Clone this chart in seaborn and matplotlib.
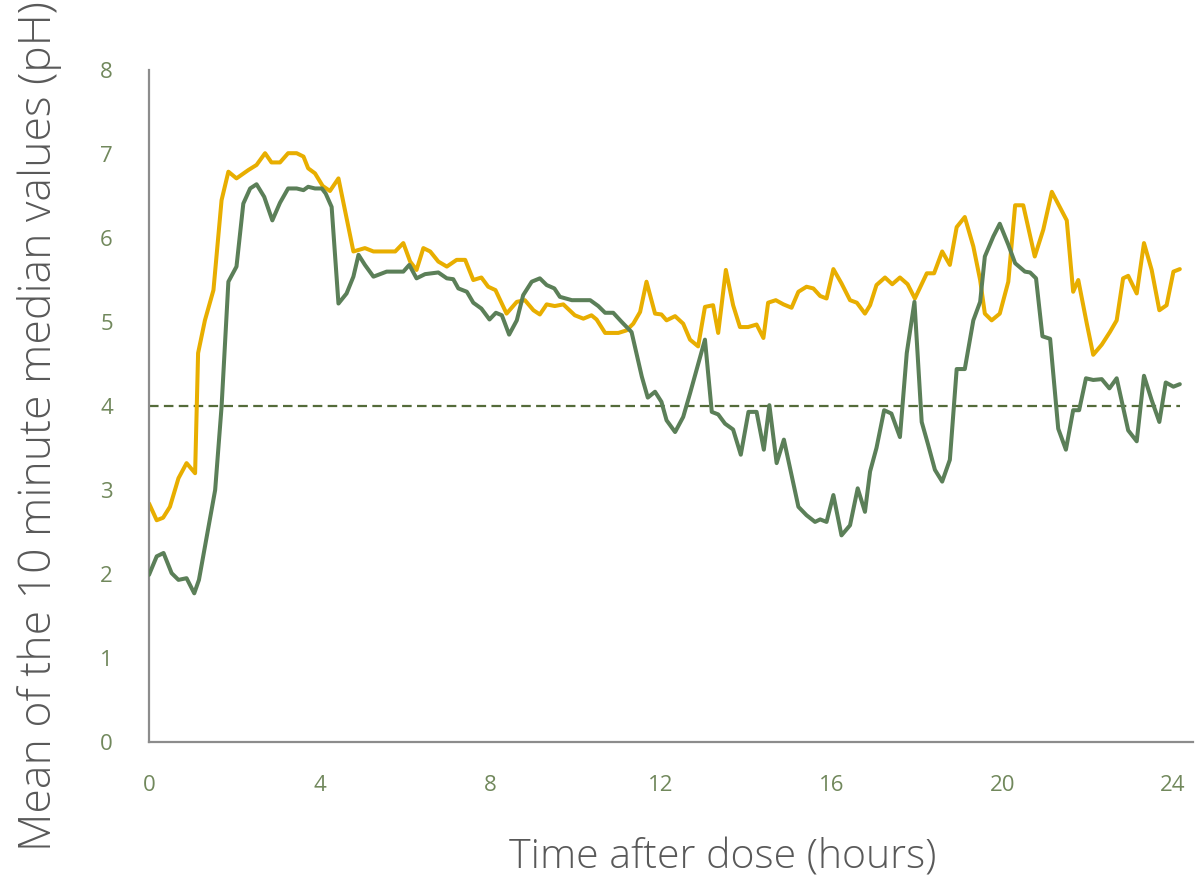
import matplotlib
matplotlib.use("Agg")
import matplotlib.pyplot as plt
import seaborn as sns
import pandas as pd

# hours after dose / pH
yellow_hours = [0.00, 0.18, 0.33, 0.49, 0.69, 0.88, 1.08, 1.15, 1.31, 1.51, 1.70, 1.86, 2.05, 2.33, 2.52,
                2.72, 2.87, 3.07, 3.26, 3.46, 3.62, 3.73, 3.89, 4.07, 4.24, 4.44, 4.79, 5.06, 5.26, 5.77,
                5.96, 6.12, 6.27, 6.43, 6.59, 6.78, 6.98, 7.21, 7.41, 7.60, 7.79, 7.95, 8.12, 8.38, 8.62,
                8.81, 9.01, 9.16, 9.32, 9.51, 9.71, 9.98, 10.18, 10.37, 10.49, 10.69, 11.00, 11.19, 11.35,
                11.51, 11.66, 11.86, 12.01, 12.13, 12.33, 12.52, 12.68, 12.87, 13.03, 13.22, 13.34, 13.52,
                13.69, 13.85, 14.04, 14.24, 14.40, 14.51, 14.69, 14.87, 15.06, 15.22, 15.41, 15.57, 15.73,
                15.88, 16.04, 16.23, 16.43, 16.59, 16.78, 16.90, 17.05, 17.25, 17.42, 17.60, 17.78, 17.95,
                18.23, 18.40, 18.59, 18.77, 18.93, 19.12, 19.32, 19.48, 19.59, 19.75, 19.94, 20.14, 20.30,
                20.49, 20.76, 20.96, 21.16, 21.51, 21.66, 21.78, 21.98, 22.13, 22.33, 22.52, 22.68, 22.83,
                22.95, 23.15, 23.32, 23.50, 23.68, 23.85, 24.01, 24.16]
yellow_ph = [2.84, 2.64, 2.67, 2.80, 3.14, 3.32, 3.20, 4.63, 5.02, 5.38, 6.45, 6.79, 6.71, 6.81, 6.87,
             7.01, 6.90, 6.90, 7.01, 7.01, 6.97, 6.83, 6.77, 6.62, 6.56, 6.71, 5.84, 5.88, 5.84, 5.84,
             5.94, 5.72, 5.62, 5.88, 5.84, 5.72, 5.66, 5.74, 5.74, 5.50, 5.53, 5.42, 5.38, 5.10, 5.24,
             5.26, 5.14, 5.09, 5.21, 5.19, 5.21, 5.08, 5.04, 5.08, 5.03, 4.87, 4.87, 4.90, 4.98,
             5.12, 5.48, 5.10, 5.09, 5.02, 5.07, 4.98, 4.79, 4.71, 5.18, 5.20, 4.87, 5.62,
             5.20, 4.94, 4.94, 4.97, 4.81, 5.23, 5.26, 5.21, 5.17, 5.36, 5.42, 5.40, 5.31,
             5.28, 5.63, 5.46, 5.26, 5.23, 5.10, 5.20, 5.44, 5.53, 5.45, 5.53, 5.45, 5.28,
             5.58, 5.58, 5.84, 5.68, 6.13, 6.25, 5.90, 5.50, 5.10, 5.02, 5.10, 5.48, 6.39,
             6.39, 5.78, 6.10, 6.55, 6.21, 5.36, 5.50, 4.98, 4.61, 4.73, 4.88, 5.02, 5.52,
             5.55, 5.34, 5.94, 5.62, 5.14, 5.20, 5.60, 5.63]

green_hours = [0.00, 0.18, 0.34, 0.53, 0.69, 0.88, 1.06, 1.17, 1.35, 1.55, 1.70, 1.86, 2.05, 2.21, 2.37,
               2.52, 2.70, 2.89, 3.07, 3.26, 3.46, 3.62, 3.73, 3.89, 4.05, 4.14, 4.28, 4.44, 4.63, 4.79,
               4.91, 5.06, 5.26, 5.57, 5.96, 6.10, 6.27, 6.47, 6.78, 6.98, 7.13, 7.25, 7.45, 7.60, 7.79,
               7.98, 8.13, 8.27, 8.44, 8.62, 8.77, 8.97, 9.16, 9.32, 9.50, 9.63, 9.91, 10.34, 10.53,
               10.69, 10.88, 11.08, 11.31, 11.55, 11.69, 11.86, 12.01, 12.13, 12.33, 12.52, 12.68, 13.03,
               13.19, 13.34, 13.50, 13.69, 13.87, 14.05, 14.24, 14.41, 14.54, 14.71, 14.88, 15.22, 15.41,
               15.61, 15.73, 15.88, 16.04, 16.23, 16.43, 16.61, 16.78, 16.90, 17.05, 17.23, 17.40, 17.60,
               17.76, 17.94, 18.11, 18.26, 18.42, 18.59, 18.77, 18.93, 19.12, 19.32, 19.48, 19.59, 19.79,
               19.94, 20.14, 20.30, 20.53, 20.65, 20.79, 20.94, 21.12, 21.31, 21.49, 21.66, 21.80, 21.96,
               22.13, 22.33, 22.51, 22.68, 22.95, 23.15, 23.32, 23.50, 23.68, 23.83, 24.01, 24.16]
green_ph = [1.99, 2.21, 2.25, 2.01, 1.93, 1.95, 1.77, 1.93, 2.44, 3.00, 3.99, 5.48, 5.66, 6.41, 6.59,
            6.64, 6.49, 6.21, 6.42, 6.59, 6.59, 6.57, 6.61, 6.59, 6.59, 6.53, 6.37, 5.22, 5.34, 5.54,
            5.80, 5.68, 5.54, 5.60, 5.60, 5.68, 5.52, 5.57, 5.59, 5.52, 5.51, 5.40, 5.36, 5.23, 5.16,
            5.03, 5.11, 5.08, 4.85, 5.02, 5.32, 5.48, 5.52, 5.44, 5.40, 5.30, 5.26, 5.26, 5.19,
            5.11, 5.11, 5.00, 4.88, 4.35, 4.10, 4.17, 4.05, 3.83, 3.69, 3.87, 4.15, 4.79,
            3.93, 3.90, 3.79, 3.72, 3.42, 3.93, 3.93, 3.48, 4.01, 3.32, 3.60, 2.80, 2.70,
            2.62, 2.65, 2.62, 2.94, 2.46, 2.58, 3.02, 2.74, 3.22, 3.50, 3.95, 3.91, 3.63,
            4.63, 5.24, 3.81, 3.54, 3.24, 3.10, 3.36, 4.44, 4.44, 5.02, 5.24, 5.78, 6.02,
            6.17, 5.92, 5.70, 5.60, 5.59, 5.52, 4.83, 4.80, 3.73, 3.48, 3.95, 3.95, 4.33,
            4.31, 4.32, 4.21, 4.33, 3.71, 3.58, 4.36, 4.07, 3.81, 4.28, 4.23, 4.26]

threshold = 4
x_ticks = [0, 4, 8, 12, 16, 20, 24]
y_ticks = [0, 1, 2, 3, 4, 5, 6, 7, 8]

yellow_df = pd.DataFrame({"hours": yellow_hours, "ph": yellow_ph})
green_df = pd.DataFrame({"hours": green_hours, "ph": green_ph})

sns.set_style("white")
plt.rcParams["font.family"] = ["Open Sans", "DejaVu Sans"]

fig = plt.figure(figsize=(11.97, 8.81), dpi=100)
ax = fig.add_axes([0.1245, 0.1578, 0.8722, 0.7627])

ax.hlines(threshold, 0, green_hours[-1], color="#546b3a", lw=1.6, ls=(0, (4.3, 2.4)), zorder=1)
sns.lineplot(data=green_df, x="hours", y="ph", ax=ax, color="#5b7f58", lw=2.9, zorder=3)
sns.lineplot(data=yellow_df, x="hours", y="ph", ax=ax, color="#e8ae00", lw=2.9, zorder=2)

ax.set_xlim(0, 24.47)
ax.set_ylim(0, 8)
ax.set_xticks(x_ticks)
ax.set_yticks(y_ticks)

for side in ["top", "right"]:
    ax.spines[side].set_visible(False)
for side in ["left", "bottom"]:
    ax.spines[side].set_color("#8c8c8c")
    ax.spines[side].set_linewidth(1.6)

ax.tick_params(axis="both", length=0, labelsize=16, labelcolor="#71885c")
ax.tick_params(axis="x", pad=24)
ax.tick_params(axis="y", pad=26)

ax.set_xlabel("Time after dose (hours)", fontsize=29.5, color="#595959", fontweight="light")
ax.set_ylabel("Mean of the 10 minute median values (pH)", fontsize=32, color="#595959", fontweight="light")
ax.xaxis.set_label_coords(0.549, -0.142)
ax.yaxis.set_label_coords(-0.083, 0.47)

fig.savefig("out.png", dpi=100)
